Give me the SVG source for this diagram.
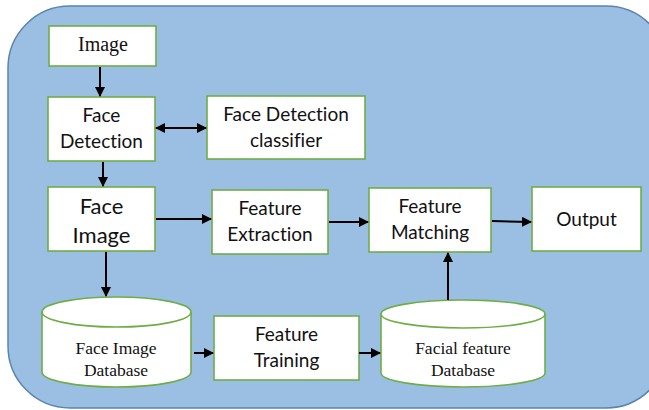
<svg xmlns="http://www.w3.org/2000/svg" width="649" height="410" viewBox="0 0 649 410">
<defs>
<style>
.box{fill:#fff;stroke:#70AD47;stroke-width:1.6}
.s{font-family:Lato,"Open Sans","Liberation Sans",sans-serif;font-size:19px;fill:#111;text-anchor:middle;font-variant-ligatures:none}
.big{font-size:22px}
.r{font-family:"Liberation Serif","Times New Roman",serif;fill:#111;text-anchor:middle}
.c line{stroke:#000;stroke-width:2}
</style>
<marker id="ah" viewBox="0 0 10 10" refX="9" refY="5" markerWidth="5" markerHeight="5" orient="auto-start-reverse" markerUnits="strokeWidth">
<path d="M0,0 L10,5 L0,10 z" fill="#000"/>
</marker>
<clipPath id="clipA"><rect x="40" y="320" width="160" height="56"/></clipPath>
</defs>
<rect x="8" y="6" width="660" height="402" rx="62" ry="62" fill="#9BBFE3" stroke="#5A84B0" stroke-width="1.5"/>
<g id="image"><rect class="box" x="49" y="26" width="107" height="40"/><text class="r" x="103" y="51" font-size="20">Image</text></g>
<g id="face-detection"><rect class="box" x="48" y="97" width="107" height="64"/><text class="s" x="101.5" y="122">Face</text><text class="s" x="101.5" y="148">Detection</text></g>
<g id="classifier"><rect class="box" x="207" y="96" width="158" height="63"/><text class="s" x="286" y="121">Face Detection</text><text class="s" x="286" y="147">classifier</text></g>
<g id="face-image"><rect class="box" x="48" y="187" width="107" height="64"/><text class="s big" x="101.5" y="214">Face</text><text class="s big" x="101.5" y="243">Image</text></g>
<g id="feature-extraction"><rect class="box" x="212" y="190" width="116" height="64"/><text class="s" x="270" y="215">Feature</text><text class="s" x="270" y="241">Extraction</text></g>
<g id="feature-matching"><rect class="box" x="369" y="188" width="122" height="64"/><text class="s" x="430" y="213">Feature</text><text class="s" x="430" y="239">Matching</text></g>
<g id="output"><rect class="box" x="532" y="187" width="109" height="64"/><text class="s" x="586.5" y="226">Output</text></g>
<g id="face-image-db"><path class="box" d="M42,312 A74.5,15 0 0 1 191,312 L191,372 A74.5,15 0 0 1 42,372 Z"/><path d="M42,312 A74.5,15 0 0 0 191,312" fill="none" stroke="#70AD47" stroke-width="1.6"/><g clip-path="url(#clipA)"><text class="r" x="116" y="354" font-size="17.5">Face Image</text><text class="r" x="116" y="376" font-size="17.5">Database</text></g></g>
<g id="feature-training"><rect class="box" x="214" y="316" width="145" height="64"/><text class="s" x="286.5" y="341">Feature</text><text class="s" x="286.5" y="367">Training</text></g>
<g id="facial-feature-db"><path class="box" d="M381,314 A82,14 0 0 1 545,314 L545,373 A82,14 0 0 1 381,373 Z"/><path d="M381,314 A82,14 0 0 0 545,314" fill="none" stroke="#70AD47" stroke-width="1.6"/><text class="r" x="463" y="354" font-size="17.5">Facial feature</text><text class="r" x="463" y="376" font-size="17.5">Database</text></g>
<g id="connectors" class="c">
<line x1="100" y1="67" x2="100" y2="96" marker-end="url(#ah)"/>
<line x1="156" y1="128" x2="206" y2="128" marker-start="url(#ah)" marker-end="url(#ah)"/>
<line x1="103" y1="162" x2="103" y2="186" marker-end="url(#ah)"/>
<line x1="156" y1="219" x2="211" y2="219" marker-end="url(#ah)"/>
<line x1="329" y1="222" x2="368" y2="222" marker-end="url(#ah)"/>
<line x1="492" y1="221" x2="531" y2="222" marker-end="url(#ah)"/>
<line x1="106" y1="252" x2="106" y2="296" marker-end="url(#ah)"/>
<line x1="194" y1="353" x2="213" y2="353" marker-end="url(#ah)"/>
<line x1="359" y1="353" x2="380" y2="353" marker-end="url(#ah)"/>
<line x1="448" y1="300" x2="448" y2="253" marker-end="url(#ah)"/>
</g>
</svg>
